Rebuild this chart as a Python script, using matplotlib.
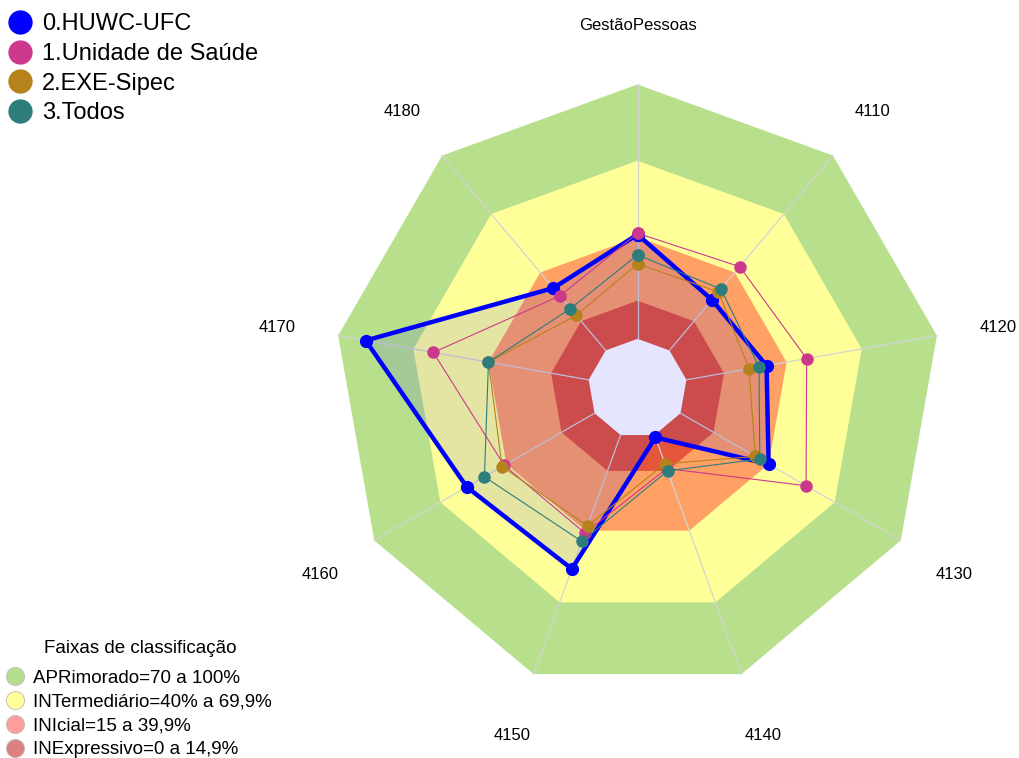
import numpy as np
import matplotlib
matplotlib.use('Agg')
import matplotlib.pyplot as plt
from matplotlib.lines import Line2D
from matplotlib.transforms import offset_copy

plt.rcParams['font.family'] = ['Liberation Sans', 'DejaVu Sans']

# axes of the radar, clockwise from the top
axis_labels = ['GestãoPessoas', '4110', '4120', '4130', '4140', '4150', '4160', '4170', '4180']

# series values (% per axis)
series_names = ['0.HUWC-UFC', '1.Unidade de Saúde', '2.EXE-Sipec', '3.Todos']
huwc = [41, 26, 32, 40, 1, 56, 58, 89, 32]
unidade_saude = [41.5, 43, 48, 57, 14, 41, 41, 62, 28]
exe_sipec = [29.5, 30, 25, 34, 12, 38, 42, 40, 18]
todos = [33, 31.5, 29, 36, 15, 44.5, 50, 40, 21.5]
series_colors = ['#0000FF', '#CC398C', '#B5821C', '#2E7D7D']

# classification bands
band_title = 'Faixas de classificação'
band_names = ['APRimorado=70 a 100%', 'INTermediário=40% a 69,9%',
              'INIcial=15 a 39,9%', 'INExpressivo=0 a 14,9%']
band_limits = [100, 70, 40, 15]
band_colors = ['#B8E08C', '#FFFF99', '#FFA064', '#E4553A']
band_legend_colors = ['#B5DE8A', '#FFFF99', '#FF9C9C', '#DE8080']


def main():
    fig = plt.figure(figsize=(10.19, 7.58), dpi=100)
    ax = fig.add_axes([0.3273, 0.0865, 0.5967, 0.8021], projection='polar')
    ax.set_theta_zero_location('N')
    ax.set_theta_direction(-1)
    ax.set_ylim(0, 100)
    ax.set_rorigin(-19.5)
    ax.axis('off')

    theta = np.deg2rad(np.arange(len(axis_labels)) * 360 / len(axis_labels))
    n = len(theta)

    # background bands
    for lim, col in zip(band_limits, band_colors):
        ax.fill(theta, [lim] * n, color=col, lw=0, zorder=1, clip_on=False)
    ax.fill(theta, [0] * n, color='white', lw=0, zorder=1.5, clip_on=False)

    # radial axis lines
    for t in theta:
        ax.plot([t, t], [0, 100], color='#D3D3D3', lw=0.9, zorder=2, clip_on=False)

    # translucent fill of the first series
    ax.fill(theta, huwc, color='#0000FF', alpha=0.1, lw=0, zorder=3, clip_on=False)

    all_series = [huwc, unidade_saude, exe_sipec, todos]
    for i, (vals, col) in enumerate(zip(all_series, series_colors)):
        t_closed = np.append(theta, theta[0])
        v_closed = np.append(vals, vals[0])
        lw = 3.2 if i == 0 else 0.8
        ms = 8.5 if i == 0 else 8
        ax.plot(t_closed, v_closed, color=col, lw=lw, marker='o', ms=ms,
                zorder=4 + i, clip_on=False)

    # axis labels
    label_tr = offset_copy(ax.transData, fig=fig, x=0, y=-3, units='dots')
    for t, lab in zip(theta, axis_labels):
        ax.text(t, 124.4, lab, ha='center', va='center', fontsize=12, transform=label_tr)

    # series legend (top left)
    handles = [Line2D([], [], ls='none', marker='o', ms=16.5, color=c) for c in series_colors]
    fig.legend(handles, series_names, loc='upper left', bbox_to_anchor=(-0.005, 1.0),
               frameon=False, fontsize=17, labelspacing=0.33, handlelength=1.0,
               handletextpad=0.45, borderaxespad=0.25, borderpad=0.3)

    # classification legend (bottom left)
    fig.text(0.1374, 0.1451, band_title, ha='center', va='center', fontsize=13.5)
    handles2 = [Line2D([], [], ls='none', marker='o', ms=13, mfc=c, mec='#BBBBBB', mew=0.6)
                for c in band_legend_colors]
    fig.legend(handles2, band_names, fontsize=13.5, loc='lower left',
               bbox_to_anchor=(0.002, -0.0053), frameon=False,
               labelspacing=0.36, handlelength=1.0, handletextpad=0.45,
               borderaxespad=0.1, borderpad=0.1)

    fig.savefig('out.png', dpi=100)


if __name__ == "__main__":
    main()
